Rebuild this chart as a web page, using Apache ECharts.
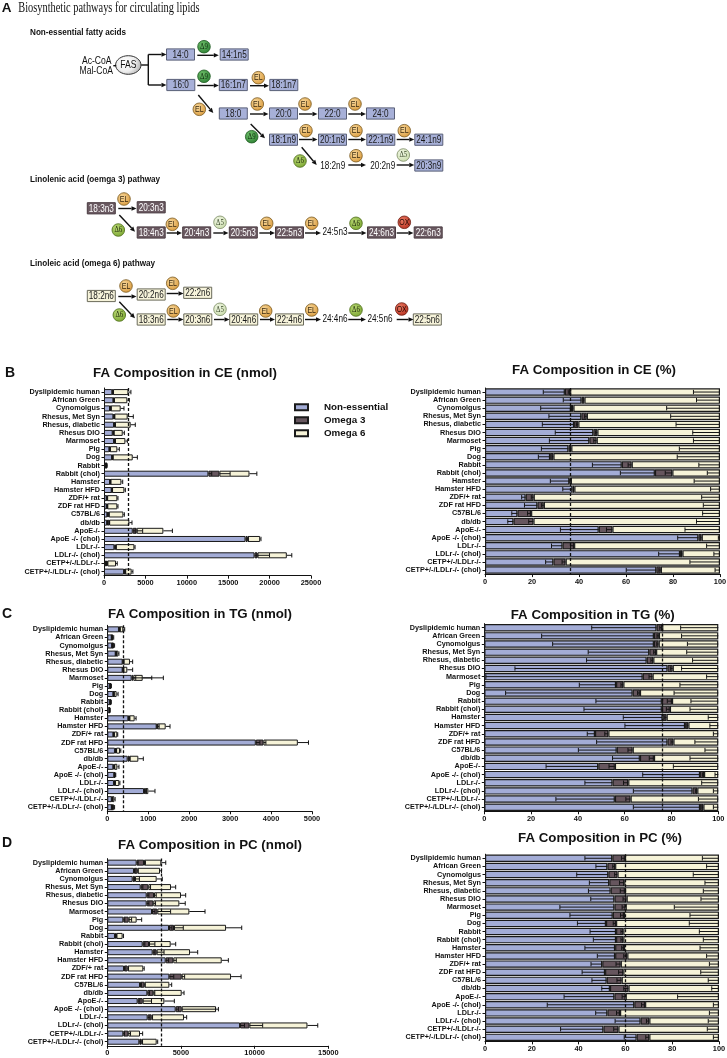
<!DOCTYPE html>
<html><head><meta charset="utf-8">
<script src="https://cdn.jsdelivr.net/npm/echarts/dist/echarts.min.js"></script>
<style>html,body{margin:0;padding:0;background:#fff}#c{width:727px;height:1058px}</style>
</head><body><div id="c"></div>
<script>
// ---------------- DATA ----------------
const categories = ['Dyslipidemic human','African Green','Cynomolgus','Rhesus, Met Syn','Rhesus, diabetic','Rhesus DIO','Marmoset','Pig','Dog','Rabbit','Rabbit (chol)','Hamster','Hamster HFD','ZDF/+ rat','ZDF rat HFD','C57BL/6','db/db','ApoE-/-','ApoE -/- (chol)','LDLr-/-','LDLr-/- (chol)','CETP+/-/LDLr-/-','CETP+/-/LDLr-/- (chol)'];
const seriesNames = ['Non-essential','Omega 3','Omega 6'];

// CE (nmol)
const ceNmolNE = [1000,1130,725,1130,1210,1050,1210,645,970,230,12610,725,930,320,320,400,370,3470,17090,1250,18180,240,2420];
const ceNmolO3 = [80,70,75,100,90,80,90,55,60,30,1330,35,40,60,80,170,250,480,240,160,360,160,80];
const ceNmolO6 = [1870,1620,1215,1630,1920,1130,1280,910,2440,90,3630,1340,1490,1230,1210,1770,2440,3220,1530,2260,3540,1050,840];
const ceNmolNEsd = [150,100,120,150,150,150,150,100,100,30,400,100,100,40,50,50,50,300,300,100,300,50,200];
const ceNmolO3sd = [50,40,40,60,60,60,60,30,40,10,1290,20,20,20,20,30,50,720,100,60,1450,40,60];
const ceNmolO6sd = [300,240,400,680,560,200,240,240,560,40,890,160,120,80,80,120,320,1090,100,80,600,150,150];
// CE (%)
const cePctNE = [34.0,41.1,36.6,41.0,37.9,46.1,44.4,35.5,27.7,58.2,72.3,35.9,37.2,17.3,22.3,13.8,12.1,48.4,90.8,33.0,83.0,29.1,72.9];
const cePctO3 = [2.2,1.2,1.0,2.3,1.8,1.7,3.1,1.2,1.4,4.2,7.4,0.6,0.8,3.4,2.7,5.8,8.5,5.8,1.4,4.9,1.0,5.2,1.9];
const cePctO6 = [63.8,57.7,62.4,56.7,60.3,52.2,52.5,63.3,70.9,37.6,20.3,63.5,62.0,79.3,75.0,80.4,79.4,45.8,7.8,62.1,16.0,65.7,25.2];
const cePctNEsd = [9.2,7.8,12.9,13.8,13.5,16.2,17.0,11.5,5.0,12.5,14.7,8.1,4.1,1.7,5.5,2.4,2.4,16.3,8.8,4.7,9.1,3.3,12.8];
const cePctO3sd = [0.8,0.6,0.5,1.0,0.8,0.8,1.2,0.5,0.6,1.5,3.0,0.4,0.4,1.0,1.0,1.5,2.0,2.5,0.6,1.5,0.5,1.5,0.8];
const cePctO6sd = [11.3,10,22.7,21,18.7,11.6,11.3,17.3,18.2,9,5.4,11,4,7.8,7.1,7.4,10,14.9,0.7,5.7,2.6,12.8,2.1];
// TG (nmol)
const tgNmolNE = [285,108,118,205,375,375,595,70,147,70,50,513,1206,147,3627,187,497,147,170,163,897,110,110];
const tgNmolO3 = [10,3,4,7,15,10,41,2,8,3,2,17,14,13,187,28,43,23,5,22,18,10,3];
const tgNmolO6 = [95,36,41,57,164,104,228,18,73,17,13,138,206,85,840,95,218,75,12,108,87,51,50];
const tgNmolNEsd = [30,10,10,20,30,30,100,10,20,8,5,40,60,15,100,20,40,20,20,20,60,15,15];
const tgNmolO3sd = [10,3,3,5,10,10,450,2,5,2,2,10,10,5,60,8,15,8,3,8,10,5,3];
const tgNmolO6sd = [35,10,15,15,65,130,505,10,35,8,5,35,106,10,260,20,122,40,20,15,163,20,15];
// TG (%)
const tgPctNE = [73.6,72.5,72.5,70.5,69.4,78.3,67.7,56.3,63.4,75.9,75.9,76.2,85.8,47.3,78.3,56.6,66.5,48.7,92.2,54.8,89.0,55.8,92.2];
const tgPctO3 = [2.4,2.1,2.0,2.9,2.8,2.2,4.2,3.1,3.1,4.3,3.4,1.7,1.4,5.7,2.5,6.8,6.0,7.1,1.7,6.7,2.0,6.7,1.4];
const tgPctO6 = [24.0,25.4,25.5,26.6,27.8,19.5,28.1,40.6,33.5,19.8,20.7,22.1,12.8,47.0,19.2,36.6,27.5,44.2,6.1,38.5,9.0,37.5,6.4];
const tgPctNEsd = [27.7,48.0,43.3,26.1,25.7,65.2,67.0,15.7,54.3,28.2,33.3,16.8,25.7,3.3,30.3,16.4,11.7,22.3,24.5,11.8,25.3,25.2,28.5];
const tgPctO3sd = [1,0.8,0.8,1,1,1,1.5,1,1,2,1.5,0.8,0.6,1.5,1,2,2,2.5,0.6,2,0.8,2,0.6];
const tgPctO6sd = [16.1,15.7,13.2,13.5,11,15.7,5,16.4,18.9,11.7,12.1,4.3,3.6,2.1,10,5.7,12.1,19.2,1.4,7.1,2.1,8.5,2.1];
// PC (nmol)
const pcNmolNE = [1992,1811,1720,2264,2672,2672,3034,1087,4188,521,2400,3079,3962,1132,4211,2219,2717,2060,4641,2740,9011,1087,2173];
const pcNmolO3 = [498,227,160,521,498,452,362,362,340,79,430,272,521,249,838,294,407,340,408,271,634,339,159];
const pcNmolO6 = [1178,1539,1471,1539,1833,1766,2173,543,3532,441,1472,2264,3283,1064,3351,1698,1925,1471,2332,2196,3939,793,1019];
const pcNmolNEsd = [100,80,100,150,150,150,200,100,200,50,150,150,200,80,300,100,150,150,200,150,300,80,100];
const pcNmolO3sd = [100,60,300,150,150,150,900,200,630,50,400,500,200,60,200,60,100,600,2300,60,900,150,60];
const pcNmolO6sd = [300,100,380,317,317,400,1064,340,1064,60,340,520,450,60,680,160,160,680,160,180,700,180,70];
// PC (%)
const pcPctNE = [54.4,52.3,52.7,53.1,53.7,55.3,55.3,54.6,51.7,56.0,56.0,55.6,55.6,50.1,51.3,52.0,53.4,55.3,63.8,52.3,66.5,50.6,64.8];
const pcPctO3 = [5.4,3.3,3.9,6.4,6.1,5.2,4.8,4.8,4.3,3.1,3.1,3.8,5.2,7.9,7.8,6.4,7.9,4.8,4.6,5.4,3.7,6.4,5.4];
const pcPctO6 = [40.2,44.4,43.4,40.5,40.2,39.5,39.9,40.6,44.0,40.9,40.9,40.6,39.2,42.0,40.9,41.6,38.7,39.9,31.6,42.3,29.8,43.0,29.8];
const pcPctNEsd = [11.7,4.9,13.5,8.5,9.5,10.1,23.3,18.3,12.2,11.1,9.7,12.9,7.6,4.8,9.8,6.3,3.5,21.5,37.2,5.0,10.9,18.3,5.3];
const pcPctO3sd = [1.5,1,1.2,2,2,1.5,1.5,1.5,1.2,1,1,1,1.5,2,2,2,2,1.5,1.5,1.5,1.2,2,1.5];
const pcPctO6sd = [7.1,5.3,11,6,6.7,7.7,19.1,12.4,12.7,8.4,6.7,8.1,5.3,4.1,7.8,4.6,3.1,17.7,2.4,4.1,4.6,5,2.4];

const ceNmolTicks = {max:25000, interval:5000};
const tgNmolTicks = {max:5000, interval:1000};
const pcNmolTicks = {max:15000, interval:5000};
const pctTicks = {max:100, interval:20};

// ---------------- STYLE / LAYOUT ----------------
const FONT = "'Liberation Sans', Arial, Helvetica, sans-serif";
const SERIF = "'Liberation Serif', 'Times New Roman', serif";
const COLORS = ['#a3acd6', '#66565e', '#f6f3d8'];

const panels = [
  {pct:false, ticks:ceNmolTicks, vals:[ceNmolNE,ceNmolO3,ceNmolO6], sds:[ceNmolNEsd,ceNmolO3sd,ceNmolO6sd], grid:{left:104, top:388, width:207, height:187.7}},
  {pct:true,  ticks:pctTicks,    vals:[cePctNE,cePctO3,cePctO6],    sds:[cePctNEsd,cePctO3sd,cePctO6sd],    grid:{left:485, top:388, width:235, height:186.1}},
  {pct:false, ticks:tgNmolTicks, vals:[tgNmolNE,tgNmolO3,tgNmolO6], sds:[tgNmolNEsd,tgNmolO3sd,tgNmolO6sd], grid:{left:107.3, top:625.3, width:204.7, height:186}},
  {pct:true,  ticks:pctTicks,    vals:[tgPctNE,tgPctO3,tgPctO6],    sds:[tgPctNEsd,tgPctO3sd,tgPctO6sd],    grid:{left:484.3, top:623.6, width:234, height:187.7}},
  {pct:false, ticks:pcNmolTicks, vals:[pcNmolNE,pcNmolO3,pcNmolO6], sds:[pcNmolNEsd,pcNmolO3sd,pcNmolO6sd], grid:{left:107.3, top:858.6, width:221, height:187.2}},
  {pct:true,  ticks:pctTicks,    vals:[pcPctNE,pcPctO3,pcPctO6],    sds:[pcPctNEsd,pcPctO3sd,pcPctO6sd],    grid:{left:485, top:854.2, width:234, height:187.2}}
];

function errRender(dir) {
  return function (params, api) {
    const y = api.value(0), a = api.value(1), b = api.value(2);
    const p1 = api.coord([a, y]), p2 = api.coord([b, y]);
    const cx = dir > 0 ? p2[0] : p1[0];
    const h = 2.2;
    const st = {stroke:'#151515', lineWidth:1};
    return {type:'group', children:[
      {type:'line', shape:{x1:p1[0], y1:p1[1], x2:p2[0], y2:p2[1]}, style:st},
      {type:'line', shape:{x1:cx, y1:p1[1]-h, x2:cx, y2:p1[1]+h}, style:st}
    ]};
  };
}

const series = [];
panels.forEach((p, i) => {
  const n = categories.length;
  // reference line: human total (nmol) or human NE+omega3 (%)
  const h = p.pct ? p.vals[0][0] + p.vals[1][0] : p.vals[0][0] + p.vals[1][0] + p.vals[2][0];
  seriesNames.forEach((name, k) => {
    const s = {
      type:'bar', name, xAxisIndex:i, yAxisIndex:i, stack:'s'+i,
      data:p.vals[k], barWidth: p.pct ? 7.4 : 6,
      itemStyle:{color:COLORS[k], borderColor:'#1a1a1a', borderWidth: p.pct ? 1.2 : 1},
      emphasis:{disabled:true}, silent:true, z:2
    };
    if (k === 2) {
      s.markLine = {silent:true, symbol:'none', animation:false, label:{show:false},
        lineStyle:{type:[3,2], color:'#111', width:1.3}, data:[{xAxis:h}]};
    }
    series.push(s);
  });
  const err = [];
  for (let r = 0; r < n; r++) {
    let cum = 0;
    for (let k = 0; k < 3; k++) {
      cum += p.vals[k][r];
      const sd = p.sds[k][r];
      if (p.pct) err.push([r, cum - sd, cum]);
      else err.push([r, cum, cum + sd]);
    }
  }
  series.push({type:'custom', name:'err'+i, xAxisIndex:i, yAxisIndex:i, data:err,
    renderItem: errRender(p.pct ? -1 : 1), encode:{x:[1,2], y:0}, z:4, silent:true, clip:false});
});

// ---------------- DIAGRAM (panel A) ----------------
const boxes = [
 ['14:0',180.5,54.5,'ne'], ['14:1n5',234.2,54.5,'ne'],
 ['16:0',180.8,85,'ne'], ['16:1n7',233.3,85,'ne'], ['18:1n7',283.8,85,'ne'],
 ['18:0',233.3,113.5,'ne'], ['20:0',283.5,113.5,'ne'], ['22:0',332.5,113.5,'ne'], ['24:0',380.5,113.5,'ne'],
 ['18:1n9',283.5,139.7,'ne'], ['20:1n9',332.5,139.7,'ne'], ['22:1n9',380.8,139.7,'ne'], ['24:1n9',428.8,139.7,'ne'],
 ['20:3n9',428.8,165.5,'ne'],
 ['18:3n3',101.3,208.3,'o3'], ['20:3n3',151.2,207.3,'o3'],
 ['18:4n3',151.2,232.5,'o3'], ['20:4n3',196.7,232.5,'o3'], ['20:5n3',243.3,232.5,'o3'], ['22:5n3',289.5,232.5,'o3'], ['24:6n3',381.5,232.5,'o3'], ['22:6n3',428.2,232.5,'o3'],
 ['18:2n6',101.3,296,'o6'], ['20:2n6',151.2,294.5,'o6'], ['22:2n6',197.7,292.8,'o6'],
 ['18:3n6',151.2,319.5,'o6'], ['20:3n6',197.8,319.5,'o6'], ['20:4n6',243.7,319.5,'o6'], ['22:4n6',289.5,319.5,'o6'], ['22:5n6',427.3,319.5,'o6']
];
const plainLabels = [['18:2n9',332.7,165.7],['20:2n9',382.7,165.7],['24:5n3',335,232.5],['24:4n6',335,319.5],['24:5n6',380,319.5]];
const enzymes = [
 ['d9',204,46.7],['d9',204,76.3],['EL',258.3,77.7],
 ['EL',199.3,109.3],['EL',257.3,104],['EL',305,104],['EL',355,104],
 ['d9',251.7,136.7],['EL',306,130.7],['EL',356,130.7],['EL',404.3,130.7],
 ['d6',300,161],['EL',356,155.7],['d5',403.3,155],
 ['EL',124,199],['d6',118.3,230],['EL',172.3,224.3],['d5',220,222.3],['EL',266.7,223.3],['EL',311.7,223.3],['d6',356,223.3],['OX',404.3,222.3],
 ['EL',126,286],['EL',172.7,283.3],['d6',119.3,315],['EL',173.3,311],['d5',220,309.3],['EL',265.7,311],['EL',311.7,310],['d6',356,310],['OX',401.7,309]
];
const arrows = [
 [148.3,54.5,166.5,54.5],[148.3,85,166.5,85],
 [197.3,55.3,218.8,55.3],[197.3,85.5,218.8,85.5],[250,85.7,269,85.7],
 [198.3,95,213.3,113],[250,114,268.5,114],[299,114,317.5,114],[348.3,114,366,114],
 [250.7,124,265,138.3],[299,139.5,317.5,139.5],[348.3,139.5,366,139.5],[396.7,139.5,414.3,139.5],
 [301.7,147.3,316.7,165],[348.3,165,366,165],[396.7,165,414.3,165],
 [118.3,208.5,136.5,208.5],[119.3,215,135,231.7],[166.7,233,182,233],[213.3,233,228.5,233],[259.3,233,275,233],[305,233,321,233],[348.3,233,366.5,233],[396.7,233,413.5,233],
 [118.3,296.5,136.5,296.5],[166.7,293.5,183.5,293.5],[119.3,301.7,135,318.3],[167.3,319.5,183.5,319.5],[214,319.5,229.5,319.5],[260,319.5,275,319.5],[305,319.5,321,319.5],[348.3,319.5,366,319.5],[396.7,319.5,413.5,319.5]
];
const plainLines = [[113.3,65.7,116.2,65.7],[141.2,65,148.3,65],[148.3,54.5,148.3,85]];

const BOXSTYLE = {ne:{fill:'#a7b0d8', stroke:'#5a6078', text:'#1a1a1a'}, o3:{fill:'#6b5a62', stroke:'#4a3c42', text:'#ffffff'}, o6:{fill:'#f6f3da', stroke:'#6a6a5a', text:'#1a1a1a'}};
const ENZ = {
  EL:{label:'EL', light:'#f7d79a', dark:'#d99a3c', stroke:'#7a5a22', serif:false, color:'#3a2a10'},
  d9:{label:'\u03949', light:'#6fbf6a', dark:'#2c7f33', stroke:'#1f5a22', serif:true, color:'#0d2a0d'},
  d6:{label:'\u03946', light:'#b9d874', dark:'#7aa530', stroke:'#4e6d1c', serif:true, color:'#1f2a0a'},
  d5:{label:'\u03945', light:'#f0f6e4', dark:'#c9dcaa', stroke:'#7c8c66', serif:true, color:'#3a4a2a'},
  OX:{label:'OX', light:'#ea7a63', dark:'#b8301f', stroke:'#6a1a10', serif:false, color:'#2a0a05'}
};

function T(x, y, s, o) {
  o = o || {};
  return {type:'text', x:x, y:y, scaleX:(o.sx || 1), z:(o.z || 20), silent:true,
    style:{x:0, y:0, text:s, fill:(o.color || '#111'),
      font:(o.bold ? 'bold ' : '') + (o.size || 11) + 'px ' + (o.family || FONT),
      align:(o.align || 'center'), verticalAlign:'middle'}};
}
function arrowEls(a) {
  const [x1,y1,x2,y2] = a;
  const ang = Math.atan2(y2-y1, x2-x1), L = 5, W = 2.3;
  const bx = x2 - L*Math.cos(ang), by = y2 - L*Math.sin(ang);
  const px = -Math.sin(ang)*W, py = Math.cos(ang)*W;
  return [
    {type:'line', z:25, silent:true, shape:{x1:x1, y1:y1, x2:bx, y2:by}, style:{stroke:'#111', lineWidth:1.4}},
    {type:'polygon', z:25, silent:true, shape:{points:[[x2,y2],[bx+px,by+py],[bx-px,by-py]]}, style:{fill:'#111'}}
  ];
}

const graphic = [];
// header
graphic.push(T(1.8, 8.5, 'A', {bold:true, size:13.5, align:'left'}));
graphic.push(T(18.3, 8.3, 'Biosynthetic pathways for circulating lipids', {size:14, family:SERIF, align:'left', sx:0.74}));
graphic.push(T(30, 32, 'Non-essential fatty acids', {bold:true, size:9.4, align:'left', sx:0.87}));
graphic.push(T(30, 179, 'Linolenic acid (oemga 3) pathway', {bold:true, size:9.4, align:'left', sx:0.87}));
graphic.push(T(30, 263.3, 'Linoleic acid (omega 6) pathway', {bold:true, size:9.4, align:'left', sx:0.87}));
// FAS
graphic.push(T(96.7, 60.6, 'Ac-CoA', {size:11, sx:0.78}));
graphic.push(T(96.2, 70.6, 'Mal-CoA', {size:11, sx:0.78}));
graphic.push({type:'ellipse', z:18, silent:true, shape:{cx:128.3, cy:65, rx:12.7, ry:9.3},
  style:{fill:new echarts.graphic.RadialGradient(0.4, 0.35, 0.8, [{offset:0, color:'#ffffff'},{offset:0.6, color:'#eeeeee'},{offset:1, color:'#b5b5b5'}]), stroke:'#333', lineWidth:1}});
graphic.push(T(128.3, 65, 'FAS', {size:11, sx:0.78}));
plainLines.forEach(l => graphic.push({type:'line', z:19, silent:true, shape:{x1:l[0], y1:l[1], x2:l[2], y2:l[3]}, style:{stroke:'#111', lineWidth:1.4}}));
// boxes
boxes.forEach(b => {
  const st = BOXSTYLE[b[3]];
  graphic.push({type:'rect', z:18, silent:true, shape:{x:b[1]-14, y:b[2]-5.6, width:28, height:11.2}, style:{fill:st.fill, stroke:st.stroke, lineWidth:1}});
  graphic.push(T(b[1], b[2]+0.3, b[0], {size:10.8, sx:0.76, color:st.text}));
});
plainLabels.forEach(t => graphic.push(T(t[1], t[2], t[0], {size:10.8, sx:0.76})));
// enzymes
enzymes.forEach(e => {
  const s = ENZ[e[0]];
  graphic.push({type:'circle', z:21, silent:true, shape:{cx:e[1], cy:e[2], r:6.3},
    style:{fill:new echarts.graphic.RadialGradient(0.38, 0.35, 0.7, [{offset:0, color:s.light},{offset:1, color:s.dark}]), stroke:s.stroke, lineWidth:0.8}});
  graphic.push(T(e[1], e[2]+0.2, s.label, {size:s.serif ? 8.5 : 9, sx:s.serif ? 0.8 : 0.78, family:s.serif ? SERIF : FONT, color:s.color, z:22}));
});
arrows.forEach(a => arrowEls(a).forEach(el => graphic.push(el)));

// panel letters and chart titles
graphic.push(T(5, 373.3, 'B', {bold:true, size:14, align:'left'}));
graphic.push(T(2, 614.3, 'C', {bold:true, size:14, align:'left'}));
graphic.push(T(2, 843.3, 'D', {bold:true, size:14, align:'left'}));
const chartTitles = [
  ['FA Composition in CE (nmol)', 185, 373.3], ['FA Composition in CE (%)', 594, 370.7],
  ['FA Composition in TG (nmol)', 200, 614], ['FA Composition in TG (%)', 592.7, 615.7],
  ['FA Composition in PC (nmol)', 210, 845.7], ['FA Composition in PC (%)', 600, 838.3]
];
chartTitles.forEach(t => graphic.push(T(t[1], t[2], t[0], {bold:true, size:13.3})));

// ---------------- OPTION ----------------
const option = {
  animation:false,
  textStyle:{fontFamily:FONT},
  legend:{data:seriesNames, orient:'vertical', left:289, top:397, itemWidth:13, itemHeight:6, itemGap:2.5,
    icon:'rect', selectedMode:false,
    textStyle:{fontSize:9.8, fontWeight:'bold', color:'#111', lineHeight:10.5, padding:[0,0,0,11], fontFamily:FONT}},
  grid: panels.map(p => Object.assign({containLabel:false, outerBoundsMode:'none'}, p.grid)),
  xAxis: panels.map((p, i) => ({
    type:'value', gridIndex:i, min:0, max:p.ticks.max, interval:p.ticks.interval,
    axisLine:{show:true, onZero:false, lineStyle:{color:'#111', width:1}},
    axisTick:{show:true, length:3, lineStyle:{color:'#111'}},
    axisLabel:{fontSize:7.4, fontWeight:'bold', color:'#111', margin:4, fontFamily:FONT, formatter:v => String(v)},
    splitLine:{show:false}
  })),
  yAxis: panels.map((p, i) => ({
    type:'category', gridIndex:i, data:categories, inverse:true,
    axisLine:{show:true, lineStyle:{color:'#111', width:1}},
    axisTick:{show:true, alignWithLabel:true, length:2.5, lineStyle:{color:'#111'}},
    axisLabel:{fontSize:7.25, fontWeight:'bold', color:'#111', margin:4, interval:0, fontFamily:FONT}
  })),
  series: series,
  graphic: graphic
};

const chart = echarts.init(document.getElementById('c'), null, {renderer:'canvas', width:727, height:1058});
chart.setOption(option);
</script>
</body></html>
